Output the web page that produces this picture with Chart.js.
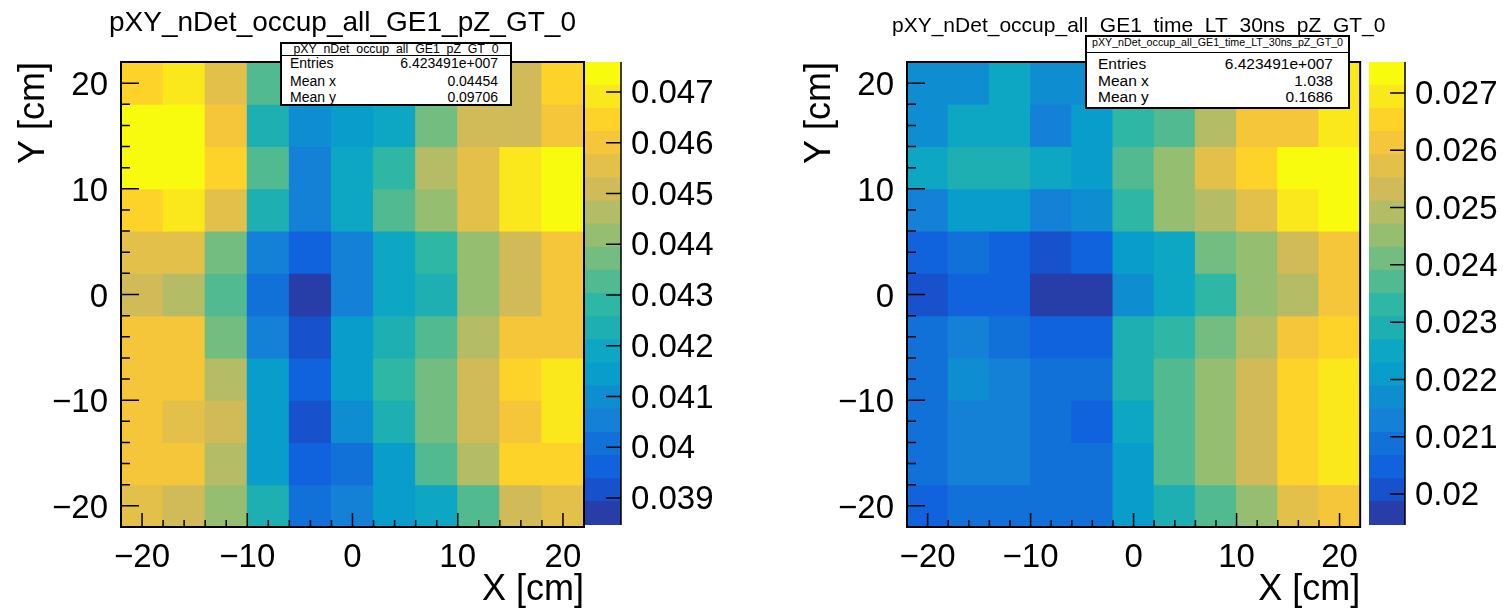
<!DOCTYPE html>
<html>
<head>
<meta charset="utf-8">
<script src="https://cdn.jsdelivr.net/npm/chart.js@4.4.1/dist/chart.umd.min.js"></script>
<style>
  body { margin: 0; width: 1503px; height: 612px; overflow: hidden; position: relative; background: #fff;
         font-family: "Liberation Sans", Arial, sans-serif; color: #000; }
  canvas { position: absolute; top: 0; }
  .txt { position: absolute; white-space: nowrap; }
  .stats { position: absolute; box-sizing: border-box; border: 2px solid #000; background: #fff; }
</style>
</head>
<body>
<script>
// Binning (cm) - 11 x 11 bins of 4 cm from -22 to 22
const xCenters = [-20, -16, -12, -8, -4, 0, 4, 8, 12, 16, 20];
const yCenters = [20, 16, 12, 8, 4, 0, -4, -8, -12, -16, -20];
const BIN_HALF = 2;
const AXIS_MIN = -22;
const AXIS_MAX = 22;

// Occupancy, rows from top (y = 20) to bottom (y = -20), columns x = -20 .. 20
const leftZ = [
  [0.0465, 0.0469, 0.0455, 0.0433, 0.0410, 0.0414, 0.0419, 0.0437, 0.0451, 0.0451, 0.0465],
  [0.0474, 0.0474, 0.0460, 0.0423, 0.0410, 0.0414, 0.0419, 0.0437, 0.0451, 0.0451, 0.0460],
  [0.0474, 0.0474, 0.0465, 0.0433, 0.0405, 0.0419, 0.0428, 0.0446, 0.0455, 0.0469, 0.0474],
  [0.0465, 0.0469, 0.0455, 0.0423, 0.0405, 0.0419, 0.0433, 0.0442, 0.0455, 0.0469, 0.0474],
  [0.0455, 0.0455, 0.0437, 0.0405, 0.0396, 0.0405, 0.0419, 0.0428, 0.0442, 0.0451, 0.0460],
  [0.0451, 0.0446, 0.0433, 0.0401, 0.0387, 0.0405, 0.0419, 0.0423, 0.0442, 0.0451, 0.0460],
  [0.0460, 0.0460, 0.0437, 0.0405, 0.0392, 0.0414, 0.0423, 0.0433, 0.0446, 0.0460, 0.0460],
  [0.0460, 0.0460, 0.0446, 0.0414, 0.0396, 0.0414, 0.0428, 0.0437, 0.0451, 0.0465, 0.0469],
  [0.0460, 0.0455, 0.0451, 0.0414, 0.0392, 0.0410, 0.0423, 0.0437, 0.0451, 0.0460, 0.0469],
  [0.0460, 0.0460, 0.0446, 0.0414, 0.0396, 0.0401, 0.0414, 0.0433, 0.0446, 0.0465, 0.0465],
  [0.0455, 0.0451, 0.0442, 0.0423, 0.0401, 0.0405, 0.0414, 0.0419, 0.0433, 0.0451, 0.0455],
];
const rightZ = [
  [0.0217, 0.0217, 0.0225, 0.0217, 0.0217, 0.0229, 0.0237, 0.0249, 0.0261, 0.0265, 0.0269],
  [0.0217, 0.0225, 0.0225, 0.0213, 0.0221, 0.0233, 0.0237, 0.0249, 0.0261, 0.0261, 0.0269],
  [0.0225, 0.0229, 0.0229, 0.0225, 0.0221, 0.0237, 0.0245, 0.0257, 0.0265, 0.0273, 0.0273],
  [0.0213, 0.0221, 0.0221, 0.0213, 0.0217, 0.0233, 0.0245, 0.0249, 0.0257, 0.0269, 0.0273],
  [0.0205, 0.0209, 0.0205, 0.0201, 0.0205, 0.0221, 0.0225, 0.0241, 0.0245, 0.0253, 0.0261],
  [0.0201, 0.0205, 0.0205, 0.0197, 0.0197, 0.0217, 0.0225, 0.0233, 0.0245, 0.0249, 0.0261],
  [0.0209, 0.0213, 0.0209, 0.0205, 0.0205, 0.0229, 0.0233, 0.0241, 0.0249, 0.0261, 0.0265],
  [0.0209, 0.0217, 0.0213, 0.0209, 0.0209, 0.0229, 0.0237, 0.0245, 0.0253, 0.0265, 0.0269],
  [0.0209, 0.0213, 0.0213, 0.0209, 0.0205, 0.0225, 0.0237, 0.0245, 0.0253, 0.0265, 0.0269],
  [0.0209, 0.0213, 0.0213, 0.0209, 0.0209, 0.0221, 0.0237, 0.0245, 0.0253, 0.0265, 0.0269],
  [0.0205, 0.0209, 0.0209, 0.0209, 0.0209, 0.0221, 0.0229, 0.0237, 0.0245, 0.0257, 0.0261],
];

// Colour axis ranges
const leftRange = [0.03847, 0.04759];
const rightRange = [0.01946, 0.02754];
const Z_STEP = 0.001;

const leftTitle = "pXY_nDet_occup_all_GE1_pZ_GT_0";
const rightTitle = "pXY_nDet_occup_all_GE1_time_LT_30ns_pZ_GT_0";
const statLabels = ["Entries", "Mean x", "Mean y"];
const leftStats = ["6.423491e+007", "0.04454", "0.09706"];
const rightStats = ["6.423491e+007", "1.038", "0.1686"];

// ROOT "kBird" palette, 20 contour levels
const BIRD_STOPS = [0.0, 0.125, 0.25, 0.375, 0.5, 0.625, 0.75, 0.875, 1.0];
const BIRD_R = [0.2082, 0.0592, 0.0780, 0.0232, 0.1802, 0.5301, 0.8186, 0.9956, 0.9764];
const BIRD_G = [0.1664, 0.3599, 0.5041, 0.6419, 0.7178, 0.7492, 0.7328, 0.7862, 0.9832];
const BIRD_B = [0.5293, 0.8684, 0.8385, 0.7914, 0.6425, 0.4662, 0.3499, 0.1968, 0.0539];
const N_CONTOURS = 20;

Chart.defaults.font.family = "'Liberation Sans', Arial, sans-serif";
Chart.defaults.color = "#000";

function birdColor(f) {
  let i = 0;
  while (i < BIRD_STOPS.length - 2 && f > BIRD_STOPS[i + 1]) i++;
  const t = (f - BIRD_STOPS[i]) / (BIRD_STOPS[i + 1] - BIRD_STOPS[i]);
  const mix = (a) => Math.round(255 * (a[i] + (a[i + 1] - a[i]) * t));
  return `rgb(${mix(BIRD_R)}, ${mix(BIRD_G)}, ${mix(BIRD_B)})`;
}

function bandColor(band) {
  const idx = Math.floor((band + 0.99) * 255 / N_CONTOURS);
  return birdColor(Math.min(idx, 254) / 254);
}

function valueBand(v, range) {
  const b = Math.floor((v - range[0]) / (range[1] - range[0]) * N_CONTOURS);
  return Math.max(0, Math.min(N_CONTOURS - 1, b));
}

function rootNumber(v) {
  return v < 0 ? "\u2212" + (-v) : String(v);
}

// Frame + inward ticks like a ROOT TFrame
const rootFrame = {
  id: "rootFrame",
  afterDraw(chart) {
    const ctx = chart.ctx;
    const a = chart.chartArea;
    const sx = chart.scales.x;
    const sy = chart.scales.y;
    ctx.save();
    ctx.strokeStyle = "#000";
    ctx.lineWidth = 1.5;
    ctx.beginPath();
    for (let v = -20; v <= 20; v += 2) {
      const major = v % 10 === 0;
      const px = sx.getPixelForValue(v);
      ctx.moveTo(px, a.bottom);
      ctx.lineTo(px, a.bottom - (major ? 14 : 7));
      const py = sy.getPixelForValue(v);
      ctx.moveTo(a.left, py);
      ctx.lineTo(a.left + (major ? 18 : 9), py);
    }
    ctx.stroke();
    ctx.lineWidth = 2;
    ctx.strokeRect(a.left, a.top, a.right - a.left, a.bottom - a.top);
    ctx.restore();
  },
};

// Palette axis: line on the right edge with ticks pointing into the colour bar
const paletteTicks = {
  id: "paletteTicks",
  afterDraw(chart) {
    const ctx = chart.ctx;
    const a = chart.chartArea;
    const sy = chart.scales.y;
    ctx.save();
    ctx.strokeStyle = "#000";
    ctx.lineWidth = 1.5;
    ctx.beginPath();
    sy.ticks.forEach((t) => {
      const py = sy.getPixelForValue(t.value);
      ctx.moveTo(a.right - 15, py);
      ctx.lineTo(a.right, py);
    });
    ctx.moveTo(a.right, a.top);
    ctx.lineTo(a.right, a.bottom);
    ctx.stroke();
    ctx.restore();
  },
};

function addCanvas(left, width) {
  const c = document.createElement("canvas");
  c.width = width;
  c.height = 612;
  c.style.left = left + "px";
  document.body.appendChild(c);
  return c;
}

function addText(text, css) {
  const d = document.createElement("div");
  d.className = "txt";
  d.textContent = text;
  Object.assign(d.style, css);
  document.body.appendChild(d);
  return d;
}

function makeMain(p) {
  const canvas = addCanvas(p.mainLeft, p.mainWidth);
  return new Chart(canvas, {
    type: "bar",
    data: {
      datasets: yCenters.map((yc, r) => ({
        data: xCenters.map((xc) => ({ x: xc, y: [yc - BIN_HALF, yc + BIN_HALF] })),
        backgroundColor: p.z[r].map((v) => bandColor(valueBand(v, p.range))),
        borderWidth: 0,
        grouped: false,
        barPercentage: 1,
        categoryPercentage: 1,
        inflateAmount: 0.5,
      })),
    },
    options: {
      responsive: false,
      animation: false,
      events: [],
      layout: { padding: { top: 62, right: p.padRight, bottom: 0, left: 0 } },
      plugins: { legend: { display: false }, tooltip: { enabled: false } },
      scales: {
        x: {
          type: "linear", min: AXIS_MIN, max: AXIS_MAX, offset: false,
          grid: { display: false, drawTicks: false, offset: false },
          border: { display: false },
          ticks: { stepSize: 10, includeBounds: false, padding: 11, autoSkip: false, maxRotation: 0,
                   font: { size: 33 }, callback: rootNumber },
          title: { display: true, text: "X [cm]", align: "end", font: { size: 36 }, padding: { top: 0, bottom: 0 } },
          afterFit: (s) => { s.height = 85; },
        },
        y: {
          type: "linear", min: AXIS_MIN, max: AXIS_MAX,
          grid: { display: false, drawTicks: false },
          border: { display: false },
          ticks: { stepSize: 10, includeBounds: false, padding: 13, labelOffset: 3, font: { size: 33 },
                   callback: rootNumber },
          title: { display: true, text: "Y [cm]", align: "end", font: { size: 36 }, padding: { top: 12, bottom: 0 } },
          afterFit: (s) => { s.width = 121; },
        },
      },
    },
    plugins: [rootFrame],
  });
}

function makePalette(p) {
  const canvas = addCanvas(p.palLeft, p.palWidth);
  const span = (p.range[1] - p.range[0]) / N_CONTOURS;
  const bands = Array.from({ length: N_CONTOURS }, (_, b) => b);
  return new Chart(canvas, {
    type: "bar",
    data: {
      labels: [""],
      datasets: bands.map((b) => ({
        data: [[p.range[0] + b * span, p.range[0] + (b + 1) * span]],
        backgroundColor: bandColor(b),
        borderWidth: 0,
        grouped: false,
        barPercentage: 1,
        categoryPercentage: 1,
        inflateAmount: 0.5,
      })),
    },
    options: {
      responsive: false,
      animation: false,
      events: [],
      layout: { padding: { top: 62, right: 0, bottom: 87, left: 0 } },
      plugins: { legend: { display: false }, tooltip: { enabled: false } },
      scales: {
        x: { display: false },
        y: {
          position: "right", min: p.range[0], max: p.range[1],
          grid: { display: false, drawTicks: false },
          border: { display: false },
          ticks: { stepSize: Z_STEP, includeBounds: false, padding: 10, labelOffset: 2, font: { size: 33 },
                   callback: (v) => String(+v.toFixed(3)) },
          afterFit: (s) => { s.width = p.palWidth - 36; },
        },
      },
    },
    plugins: [paletteTicks],
  });
}

function makeTexts(p) {
  const t = p.title;
  addText(p.titleText, { left: t.left + "px", top: (t.baseline - 0.8465 * t.size) + "px",
                         fontSize: t.size + "px", lineHeight: t.size + "px" });
  const s = p.stats;
  const box = document.createElement("div");
  box.className = "stats";
  Object.assign(box.style, { left: s.left + "px", top: s.top + "px",
                             width: (s.right - s.left) + "px", height: (s.bottom - s.top) + "px" });
  document.body.appendChild(box);
  const rule = document.createElement("div");
  Object.assign(rule.style, { position: "absolute", left: s.left + "px", width: (s.right - s.left) + "px",
                              top: s.divider + "px", height: "0px", borderTop: "1px solid #000" });
  document.body.appendChild(rule);
  addText(p.titleText, { left: s.left + "px", width: (s.right - s.left) + "px", textAlign: "center",
                         top: (s.titleCenter - 0.4885 * s.titleSize) + "px",
                         fontSize: s.titleSize + "px", lineHeight: s.titleSize + "px" });
  statLabels.forEach((label, i) => {
    const top = (s.rows[i] - 0.4885 * s.size) + "px";
    addText(label, { left: s.textLeft + "px", top, fontSize: s.size + "px", lineHeight: s.size + "px" });
    addText(p.statValues[i], { right: (1503 - s.textRight) + "px", top, fontSize: s.size + "px",
                               lineHeight: s.size + "px", textAlign: "right" });
  });
}

const panels = [
  {
    z: leftZ, range: leftRange, titleText: leftTitle, statValues: leftStats,
    mainLeft: 0, mainWidth: 600, padRight: 16, palLeft: 585, palWidth: 150,
    title: { left: 109, baseline: 32, size: 28 },
    stats: { left: 280, top: 42, right: 512, bottom: 106, divider: 55, titleCenter: 48.7, titleSize: 12.3,
             size: 14, rows: [63.3, 81, 96.5], textLeft: 290, textRight: 498 },
  },
  {
    z: rightZ, range: rightRange, titleText: rightTitle, statValues: rightStats,
    mainLeft: 786, mainWidth: 583, padRight: 2, palLeft: 1369, palWidth: 134,
    title: { left: 892, baseline: 32, size: 21 },
    stats: { left: 1085, top: 35, right: 1350, bottom: 109, divider: 51.5, titleCenter: 42.5, titleSize: 10.7,
             size: 15.5, rows: [63.3, 80.5, 97], textLeft: 1098, textRight: 1333 },
  },
];

panels.forEach((p) => {
  makeMain(p);
  makePalette(p);
  makeTexts(p);
});
</script>
</body>
</html>
